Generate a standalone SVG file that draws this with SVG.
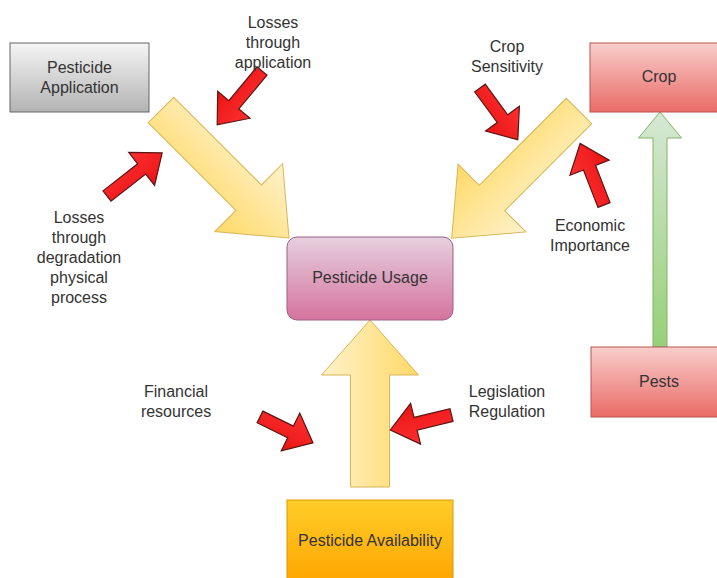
<svg xmlns="http://www.w3.org/2000/svg" width="717" height="578" viewBox="0 0 717 578">
<style>
text{font-family:"Liberation Sans",Arial,sans-serif;font-size:16px;fill:#333;text-anchor:middle}
.red{fill:url(#gRed);stroke:#5c1414;stroke-width:1.2;stroke-linejoin:miter}
.yel{fill:url(#gYel);stroke:#d6b656;stroke-width:1}
</style>
<defs>
<linearGradient id="gGray" x1="0" y1="0" x2="0" y2="1"><stop offset="0" stop-color="#f5f5f5"/><stop offset="1" stop-color="#b3b3b3"/></linearGradient>
<linearGradient id="gRedBox" x1="0" y1="0" x2="0" y2="1"><stop offset="0" stop-color="#f8cecc"/><stop offset="1" stop-color="#ea6b66"/></linearGradient>
<linearGradient id="gPink" x1="0" y1="0" x2="0" y2="1"><stop offset="0" stop-color="#e6d0de"/><stop offset="1" stop-color="#d5739d"/></linearGradient>
<linearGradient id="gOrange" x1="0" y1="0" x2="0" y2="1"><stop offset="0" stop-color="#ffcd28"/><stop offset="1" stop-color="#ffa500"/></linearGradient>
<linearGradient id="gYel" x1="0" y1="0" x2="0" y2="1"><stop offset="0" stop-color="#fff2cc"/><stop offset="1" stop-color="#ffd966"/></linearGradient>
<linearGradient id="gGreen" x1="0" y1="0" x2="1" y2="0"><stop offset="0" stop-color="#97d077"/><stop offset="1" stop-color="#d5e8d4"/></linearGradient>
<linearGradient id="gRed" x1="0" y1="0" x2="0" y2="1"><stop offset="0" stop-color="#ff3030"/><stop offset="1" stop-color="#e81414"/></linearGradient>
</defs>
<rect width="717" height="578" fill="#fff"/>

<g id="connectors">
<path class="yel" transform="translate(161,110) rotate(45)" d="M0,-18 H124 V-48 L181,0 L124,48 V18 H0 Z"/>
<path class="yel" transform="translate(579,111) rotate(135)" d="M0,-18 H123 V-48 L180,0 L123,48 V18 H0 Z"/>
<path class="yel" transform="translate(370,487) rotate(-90)" d="M0,-19.5 H112 V-48.5 L167,0 L112,48.5 V19.5 H0 Z"/>
<path fill="url(#gGreen)" stroke="#82b366" stroke-width="1" transform="translate(660,347) rotate(-90)" d="M0,-7 H209 V-21.5 L235,0 L209,21.5 V7 H0 Z"/>
<path class="red" transform="translate(262,71) rotate(129.8)" d="M0,-6.5 H44 V-21 L70,0 L44,21 V6.5 H0 Z"/>
<path class="red" transform="translate(107,196) rotate(-38)" d="M0,-6.5 H44 V-21 L70,0 L44,21 V6.5 H0 Z"/>
<path class="red" transform="translate(480,88) rotate(53.8)" d="M0,-6.5 H38 V-21 L64,0 L38,21 V6.5 H0 Z"/>
<path class="red" transform="translate(604,205) rotate(-111.2)" d="M0,-6.5 H40 V-21 L66,0 L40,21 V6.5 H0 Z"/>
<path class="red" transform="translate(260,417) rotate(26.1)" d="M0,-6.5 H34 V-21 L59,0 L34,21 V6.5 H0 Z"/>
<path class="red" transform="translate(451.5,415) rotate(166.3)" d="M0,-6.5 H37 V-21 L63,0 L37,21 V6.5 H0 Z"/>
</g>

<g id="pesticide-application">
<rect x="10" y="43" width="139" height="69" fill="url(#gGray)" stroke="#666"/>
<text x="79.5" y="73">Pesticide</text>
<text x="79.5" y="93">Application</text>
</g>
<g id="crop">
<rect x="590" y="43" width="138" height="69" fill="url(#gRedBox)" stroke="#b85450"/>
<text x="659" y="82">Crop</text>
</g>
<g id="pests">
<rect x="591" y="347" width="138" height="70" fill="url(#gRedBox)" stroke="#b85450"/>
<text x="659" y="387">Pests</text>
</g>
<g id="pesticide-usage">
<rect x="287" y="237" width="166" height="83" rx="10" fill="url(#gPink)" stroke="#996185"/>
<text x="370" y="283">Pesticide Usage</text>
</g>
<g id="pesticide-availability">
<rect x="287" y="500" width="166" height="82" fill="url(#gOrange)" stroke="#d79b00"/>
<text x="370" y="546">Pesticide Availability</text>
</g>

<g id="label-losses-application">
<text x="273" y="28">Losses</text>
<text x="273" y="48">through</text>
<text x="273" y="68">application</text>
</g>
<g id="label-losses-degradation">
<text x="79" y="223">Losses</text>
<text x="79" y="243">through</text>
<text x="79" y="263">degradation</text>
<text x="79" y="283">physical</text>
<text x="79" y="303">process</text>
</g>
<g id="label-crop-sensitivity">
<text x="507" y="52">Crop</text>
<text x="507" y="72">Sensitivity</text>
</g>
<g id="label-economic-importance">
<text x="590" y="231">Economic</text>
<text x="590" y="251">Importance</text>
</g>
<g id="label-financial">
<text x="176" y="397">Financial</text>
<text x="176" y="417">resources</text>
</g>
<g id="label-legislation">
<text x="507" y="397">Legislation</text>
<text x="507" y="417">Regulation</text>
</g>
</svg>
